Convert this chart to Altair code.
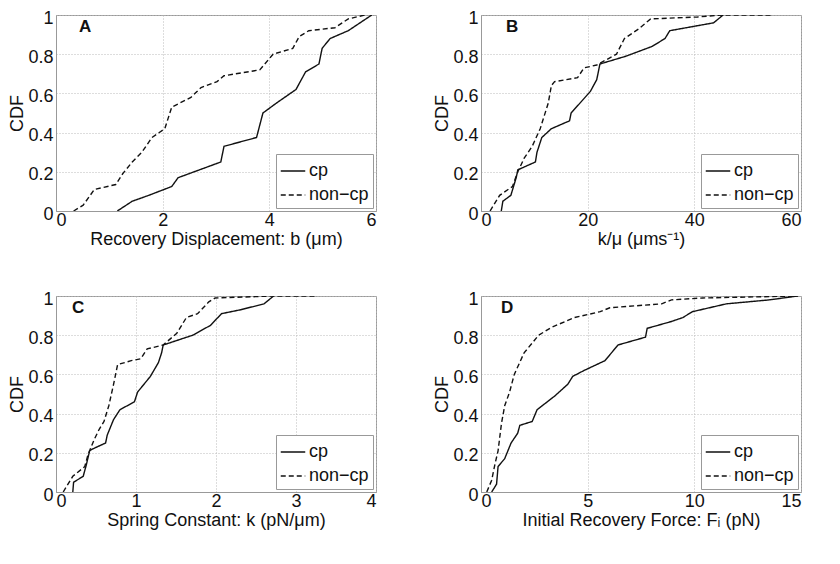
import altair as alt
import pandas as pd

FONT = "Liberation Sans"
SERIES = ["cp", "non\u2212cp"]

# Panel A: Recovery Displacement
a_cp_x = [1.15, 1.43, 1.74, 2.17, 2.29, 3.09, 3.15, 3.76, 3.88, 4.13, 4.5, 4.68, 4.93, 4.99, 5.14, 5.48, 5.92]
a_cp_y = [0, 0.05, 0.08, 0.125, 0.17, 0.25, 0.33, 0.375, 0.5, 0.55, 0.62, 0.71, 0.75, 0.83, 0.88, 0.92, 1.0]
a_nc_x = [0.33, 0.51, 0.72, 1.12, 1.25, 1.43, 1.61, 1.8, 2.04, 2.17, 2.53, 2.72, 3.02, 3.15, 3.82, 4.07, 4.44, 4.56, 4.74, 5.23, 5.48, 5.79]
a_nc_y = [0, 0.03, 0.11, 0.135, 0.19, 0.25, 0.3, 0.375, 0.42, 0.53, 0.58, 0.63, 0.66, 0.69, 0.72, 0.8, 0.83, 0.89, 0.92, 0.935, 0.98, 1.0]

# Panel B: k/mu
b_cp_x = [3.8, 4.1, 5.6, 6.6, 6.9, 10.2, 10.5, 11.4, 13.2, 16.6, 16.9, 20.5, 21.7, 22.3, 27.2, 32.1, 34.5, 35.4, 43.6, 45.4]
b_cp_y = [0, 0.05, 0.08, 0.17, 0.21, 0.25, 0.3, 0.375, 0.42, 0.46, 0.5, 0.61, 0.67, 0.75, 0.79, 0.84, 0.88, 0.92, 0.96, 1.0]
b_nc_x = [1.7, 3.5, 5.9, 6.9, 8.1, 9.6, 11.1, 12.6, 13.2, 13.8, 18.1, 19.3, 21.7, 25.4, 26.9, 29.6, 31.8, 40.6, 45.4, 54.5]
b_nc_y = [0, 0.08, 0.125, 0.2, 0.27, 0.33, 0.42, 0.55, 0.64, 0.66, 0.68, 0.73, 0.745, 0.8, 0.88, 0.93, 0.98, 0.99, 1.0, 1.0]

# Panel C: Spring Constant
c_cp_x = [0.21, 0.22, 0.34, 0.38, 0.42, 0.46, 0.62, 0.64, 0.72, 0.80, 0.98, 1.02, 1.18, 1.28, 1.32, 1.34, 1.71, 1.93, 2.07, 2.31, 2.60, 2.72]
c_cp_y = [0, 0.05, 0.08, 0.14, 0.21, 0.22, 0.25, 0.29, 0.37, 0.42, 0.46, 0.51, 0.59, 0.66, 0.71, 0.75, 0.8, 0.85, 0.91, 0.93, 0.96, 1.0]
c_nc_x = [0.09, 0.21, 0.36, 0.40, 0.48, 0.54, 0.60, 0.66, 0.72, 0.77, 0.94, 1.06, 1.14, 1.34, 1.51, 1.63, 1.77, 1.91, 1.99, 2.72, 3.24]
c_nc_y = [0, 0.08, 0.13, 0.19, 0.27, 0.32, 0.36, 0.44, 0.55, 0.65, 0.67, 0.68, 0.73, 0.75, 0.81, 0.89, 0.91, 0.97, 0.99, 1.0, 1.0]

# Panel D: Initial Recovery Force
d_cp_x = [0.5, 0.73, 0.8, 1.11, 1.41, 1.72, 1.82, 2.4, 2.63, 3.46, 4.07, 4.3, 4.83, 5.81, 6.04, 6.42, 7.71, 7.79, 8.93, 9.46, 9.91, 11.5, 13.5, 14.85]
d_cp_y = [0, 0.04, 0.13, 0.17, 0.25, 0.3, 0.34, 0.36, 0.42, 0.49, 0.55, 0.59, 0.62, 0.67, 0.7, 0.75, 0.79, 0.835, 0.87, 0.89, 0.92, 0.96, 0.98, 1.0]
d_nc_x = [0.27, 0.5, 0.65, 0.8, 0.96, 1.11, 1.34, 1.56, 2.02, 2.4, 2.7, 3.31, 4.37, 5.59, 6.04, 8.47, 8.93, 10.4, 14.85]
d_nc_y = [0, 0.06, 0.14, 0.21, 0.35, 0.44, 0.51, 0.6, 0.71, 0.76, 0.8, 0.84, 0.89, 0.92, 0.94, 0.96, 0.98, 0.99, 1.0]

y_ticks = [0, 0.2, 0.4, 0.6, 0.8, 1]

W, H = 320, 196


def panel(letter, letter_x, cp_x, cp_y, nc_x, nc_y, xmax, xticks, xtitle):
    df = pd.DataFrame({
        "x": cp_x + nc_x,
        "y": cp_y + nc_y,
        "series": [SERIES[0]] * len(cp_x) + [SERIES[1]] * len(nc_x),
        "ord": list(range(len(cp_x))) + list(range(len(nc_x))),
    })
    lines = alt.Chart(df).mark_line(color="#111", strokeWidth=1.4, clip=True).encode(
        x=alt.X("x:Q", scale=alt.Scale(domain=[0, xmax], nice=False, zero=False),
                axis=alt.Axis(values=xticks, title=xtitle, grid=True, ticks=False,
                              labelPadding=0, titlePadding=1, format="d")),
        y=alt.Y("y:Q", scale=alt.Scale(domain=[0, 1], nice=False),
                axis=alt.Axis(values=y_ticks, title="CDF", grid=True, ticks=False,
                              format="~g", labelPadding=3, titlePadding=1, labelOffset=3)),
        strokeDash=alt.StrokeDash(
            "series:N",
            scale=alt.Scale(domain=SERIES, range=[[1, 0], [5, 3]]),
            legend=alt.Legend(orient="bottom-right", title=None, symbolType="stroke",
                              symbolSize=600, symbolStrokeColor="#111", symbolStrokeWidth=1.4,
                              labelFontSize=18, labelFont=FONT, labelColor="#111",
                              strokeColor="#999", fillColor="white", padding=4,
                              offset=3, rowPadding=2, labelOffset=3),
        ),
        order="ord:Q",
    )
    lab = alt.Chart(pd.DataFrame({"t": [letter]})).mark_text(
        font=FONT, fontSize=17, fontWeight="bold", align="left", baseline="middle", color="#111"
    ).encode(text="t:N", x=alt.value(letter_x), y=alt.value(12))
    return alt.layer(lines, lab).properties(width=W, height=H)


pA = panel("A", 23, a_cp_x, a_cp_y, a_nc_x, a_nc_y, 6, [0, 2, 4, 6],
           "Recovery Displacement: b  (\u03bcm)")
pB = panel("B", 25, b_cp_x, b_cp_y, b_nc_x, b_nc_y, 60, [0, 20, 40, 60],
           "k/\u03bc (\u03bcms\u207b\u00b9)")
pC = panel("C", 16, c_cp_x, c_cp_y, c_nc_x, c_nc_y, 4, [0, 1, 2, 3, 4],
           "Spring Constant: k (pN/\u03bcm)")
pD = panel("D", 20, d_cp_x, d_cp_y, d_nc_x, d_nc_y, 15, [0, 5, 10, 15],
           "Initial Recovery Force: F\u1d62 (pN)")

row1 = alt.hconcat(pA, pB, spacing=56).resolve_scale(strokeDash="independent").resolve_legend(strokeDash="independent")
row2 = alt.hconcat(pC, pD, spacing=56).resolve_scale(strokeDash="independent").resolve_legend(strokeDash="independent")

chart = alt.vconcat(row1, row2, spacing=40).resolve_scale(
    strokeDash="independent").resolve_legend(strokeDash="independent").properties(
    padding={"left": 0, "top": 0, "right": 0, "bottom": 0},
    background="white",
).configure_view(stroke="#999", strokeWidth=1).configure_axis(
    labelFont=FONT, labelFontSize=18, labelColor="#111",
    titleFont=FONT, titleFontSize=18, titleColor="#111", titleFontWeight="normal",
    domainColor="#999", gridColor="#bbb", gridDash=[1, 2], gridWidth=1,
)

chart.save("out.html", embed_options={"renderer": "svg", "actions": False})
